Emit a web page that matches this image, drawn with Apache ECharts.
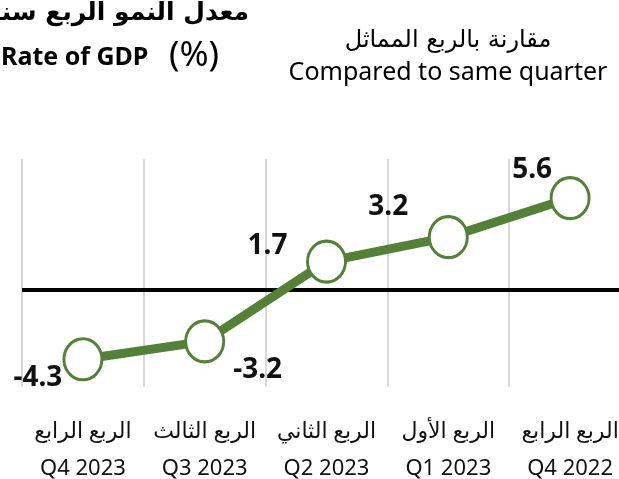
<!DOCTYPE html>
<html>
<head>
<meta charset="utf-8">
<script src="https://cdn.jsdelivr.net/npm/echarts@6/dist/echarts.min.js"></script>
<style>
    html, body { margin: 0; padding: 0; background: #fff; }
    #chart { width: 619px; height: 479px; }
</style>
</head>
<body>
<div id="chart"></div>
<script>
// quarters, left to right
const quartersAr = ['الربع الرابع', 'الربع الثالث', 'الربع الثاني', 'الربع الأول', 'الربع الرابع']
const quartersEn = ['Q4 2023', 'Q3 2023', 'Q2 2023', 'Q1 2023', 'Q4 2022']
const growth = [-4.3, -3.2, 1.7, 3.2, 5.6]

// where each value label sits relative to its point
const labelOffsets = [[-45, 19], [53, 29], [-59, -16], [-60, -30], [-38, -28]]

const green = '#538135'
const latin = '"Noto Sans", "DejaVu Sans", sans-serif'

let chart = echarts.init(document.getElementById('chart'))

let seriesData = growth.map((v, i) => ({
    value: v,
    label: { offset: labelOffsets[i] }
}))

let option = {
    animation: false,
    grid: {
        left: 22,
        width: 609,
        top: 159,
        bottom: 92,
        containLabel: false,
        outerBoundsMode: 'none'
    },
    graphic: [
        {
            type: 'text',
            x: 249,
            y: 13,
            style: {
                text: 'معدل النمو الربع سنوي',
                font: 'bold 25px "DejaVu Sans", sans-serif',
                fill: '#000',
                align: 'right',
                verticalAlign: 'middle'
            }
        },
        {
            type: 'text',
            x: 1,
            y: 58,
            style: {
                text: 'Rate of GDP',
                font: 'bold 25px ' + latin,
                fill: '#000',
                align: 'left',
                verticalAlign: 'middle'
            }
        },
        {
            type: 'text',
            x: 169,
            y: 56,
            style: {
                text: '(%)',
                font: '35px ' + latin,
                fill: '#000',
                align: 'left',
                verticalAlign: 'middle'
            }
        },
        {
            type: 'text',
            x: 448,
            y: 41,
            style: {
                text: 'مقارنة بالربع المماثل',
                font: '24px "DejaVu Sans", sans-serif',
                fill: '#000',
                align: 'center',
                verticalAlign: 'middle'
            }
        },
        {
            type: 'text',
            x: 448,
            y: 73,
            style: {
                text: 'Compared to same quarter',
                font: '25px ' + latin,
                fill: '#000',
                align: 'center',
                verticalAlign: 'middle'
            }
        }
    ],
    xAxis: {
        type: 'category',
        data: quartersEn,
        boundaryGap: true,
        axisLine: { show: false },
        axisTick: { show: false },
        splitLine: {
            show: true,
            lineStyle: { color: '#d9d9d9', width: 2 }
        },
        axisLabel: {
            interval: 0,
            margin: 26,
            fontSize: 22,
            lineHeight: 37,
            color: '#111',
            fontFamily: latin,
            formatter: (val, idx) => quartersAr[idx] + '\n' + val
        }
    },
    yAxis: {
        type: 'value',
        min: -6,
        max: 8,
        interval: 2,
        show: false,
        splitLine: { show: false }
    },
    series: [{
        type: 'line',
        data: seriesData,
        symbol: 'circle',
        symbolSize: [38, 41],
        lineStyle: { color: green, width: 9 },
        itemStyle: {
            color: '#fff',
            borderColor: green,
            borderWidth: 3
        },
        label: {
            show: true,
            position: 'inside',
            fontSize: 28,
            fontWeight: 'bold',
            fontFamily: latin,
            color: '#111',
            formatter: p => p.value.toFixed(1)
        },
        markLine: {
            silent: true,
            symbol: 'none',
            label: { show: false },
            lineStyle: { color: '#000', width: 4, type: 'solid' },
            data: [{ yAxis: 0 }],
            z: 1
        },
        z: 3
    }]
}
chart.setOption(option)
</script>
</body>
</html>
